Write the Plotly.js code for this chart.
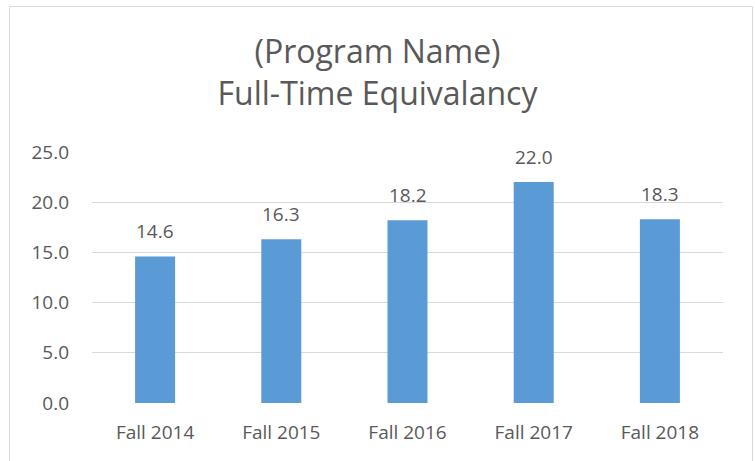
<!DOCTYPE html>
<html>
<head>
<meta charset="utf-8">
<script src="https://cdn.plot.ly/plotly-3.0.1.min.js"></script>
<style>
  html, body { margin: 0; padding: 0; background: #ffffff; }
  #chart { width: 755px; height: 461px; }
</style>
</head>
<body>
<div id="chart"></div>
<script>
// ---- data ----
const categories = ["Fall 2014", "Fall 2015", "Fall 2016", "Fall 2017", "Fall 2018"];
const fteValues = [14.6, 16.3, 18.2, 22.0, 18.3];
const yTickValues = [0, 5, 10, 15, 20, 25];
const titleLine1 = "(Program Name)";
const titleLine2 = "Full-Time Equivalancy";

const textColor = "#595959";
const gridColor = "#d9d9d9";
const barColor = "#5b9bd5";
const fontFamily = "Open Sans, sans-serif";

const trace = {
  type: "bar",
  x: categories,
  y: fteValues,
  marker: { color: barColor, line: { width: 0 } },
  hoverinfo: "x+y"
};

const labels = categories.map((c, i) => ({
  x: c,
  y: fteValues[i],
  xref: "x",
  yref: "y",
  text: fteValues[i].toFixed(1),
  showarrow: false,
  yanchor: "bottom",
  yshift: 10,
  font: { family: fontFamily, size: 19, color: textColor }
}));

const layout = {
  width: 755,
  height: 461,
  margin: { l: 92, r: 32, t: 152, b: 58 },
  paper_bgcolor: "#ffffff",
  plot_bgcolor: "#ffffff",
  showlegend: false,
  bargap: 0.683,
  title: {
    text: titleLine1 + "<br>" + titleLine2,
    font: { family: fontFamily, size: 32, color: textColor },
    x: 0.5,
    xref: "container",
    xanchor: "center",
    y: 1 - 63 / 461,
    yref: "container",
    yanchor: "top"
  },
  xaxis: {
    type: "category",
    showgrid: false,
    zeroline: false,
    showline: false,
    ticks: "",
    ticklabelstandoff: 16,
    tickfont: { family: fontFamily, size: 19, color: textColor }
  },
  yaxis: {
    range: [0, 25],
    tickvals: yTickValues,
    ticktext: yTickValues.map(v => v.toFixed(1)),
    showgrid: true,
    gridcolor: gridColor,
    gridwidth: 1,
    zeroline: false,
    showline: false,
    ticks: "",
    ticklabelstandoff: 22,
    tickfont: { family: fontFamily, size: 19, color: textColor }
  },
  annotations: labels,
  shapes: [{
    type: "rect",
    xref: "paper",
    yref: "paper",
    x0: (9.5 - 92) / 631,
    x1: (752.5 - 92) / 631,
    y0: (403 - 480) / 251,
    y1: (403 - 6.5) / 251,
    line: { color: gridColor, width: 1 },
    fillcolor: "rgba(0,0,0,0)",
    layer: "below"
  }]
};

Plotly.newPlot("chart", [trace], layout, { displayModeBar: false, staticPlot: true });
</script>
</body>
</html>
